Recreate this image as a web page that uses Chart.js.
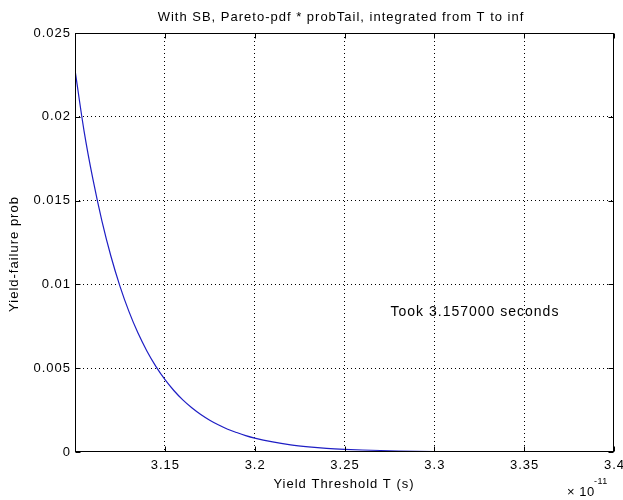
<!DOCTYPE html>
<html>
<head>
<meta charset="utf-8">
<script src="https://cdn.jsdelivr.net/npm/chart.js@4/dist/chart.umd.min.js"></script>
<style>
html,body{margin:0;padding:0;background:#fff;}
#wrap{width:623px;height:500px;}
</style>
</head>
<body>
<div id="wrap"><canvas id="c" width="623" height="500"></canvas></div>
<script>
// Data (x in units of 1e-11 s)
const thresholdT = [3.100,3.105,3.110,3.115,3.120,3.125,3.130,3.135,3.140,3.145,3.150,3.155,3.160,3.165,3.170,3.175,3.180,3.185,3.190,3.195,3.200,3.210,3.220,3.230,3.240,3.250,3.260,3.280,3.300,3.350,3.400];
const failureProb = [0.0228,0.01918,0.01626,0.01378,0.01168,0.00990,0.00839,0.00711,0.00603,0.00511,0.00433,0.00367,0.00311,0.00264,0.00224,0.00190,0.00161,0.00136,0.00116,0.00098,0.00083,0.00060,0.00043,0.00031,0.00022,0.00016,0.00012,0.00006,0.00003,0.000006,0.000001];
const xTicks = [3.1,3.15,3.2,3.25,3.3,3.35,3.4];
const xTickLabels = ["","3.15","3.2","3.25","3.3","3.35","3.4"];
const yTicks = [0,0.005,0.01,0.015,0.02,0.025];
const yTickLabels = ["0","0.005","0.01","0.015","0.02","0.025"];
const titleText = "With SB, Pareto-pdf * probTail, integrated from T to inf";
const xLabel = "Yield Threshold T (s)";
const yLabel = "Yield-failure prob";
const annotation = {x:3.2756, y:0.00835, text:"Took 3.157000 seconds"};

const FONT = "'Liberation Sans', Arial, sans-serif";

function txt(ctx, s, x, y, align, size, spacing){
  ctx.font = size+"px "+FONT;
  ctx.letterSpacing = (spacing||0)+"px";
  const w = ctx.measureText(s).width;
  ctx.textAlign='left';
  let sx = x;
  if(align==='center') sx = x - w/2;
  else if(align==='right') sx = x - w;
  ctx.fillText(s, sx, y);
}

const matlabPlugin = {
  id:'matlab',
  beforeDraw(chart){
    const ctx = chart.ctx;
    ctx.save();
    ctx.fillStyle='#fff';
    ctx.fillRect(0,0,chart.width,chart.height);
    ctx.restore();
  },
  afterDraw(chart){
    const ctx = chart.ctx, a = chart.chartArea;
    const xs = chart.scales.x, ys = chart.scales.y;
    ctx.save();
    // box
    ctx.strokeStyle='#000'; ctx.lineWidth=1; ctx.setLineDash([]);
    const L=Math.round(a.left)+0.5, T=Math.round(a.top)+0.5, R=Math.round(a.right)-0.5, B=Math.round(a.bottom)-0.5;
    ctx.strokeRect(L, T, R-L, B-T);
    // inward ticks
    const tl = 5;
    xTicks.forEach(v=>{
      const px = Math.round(xs.getPixelForValue(v))+0.5;
      ctx.beginPath();
      ctx.moveTo(px,B); ctx.lineTo(px,B-tl);
      ctx.moveTo(px,T); ctx.lineTo(px,T+tl);
      ctx.stroke();
    });
    yTicks.forEach(v=>{
      const py = Math.round(ys.getPixelForValue(v))+0.5;
      ctx.beginPath();
      ctx.moveTo(L,py); ctx.lineTo(L+tl,py);
      ctx.moveTo(R,py); ctx.lineTo(R-tl,py);
      ctx.stroke();
    });
    // texts
    ctx.fillStyle='#000';
    ctx.textBaseline='middle';
    // tick labels
    xTicks.forEach((v,i)=>{
      txt(ctx, xTickLabels[i], xs.getPixelForValue(v)+0.5, 465, 'center', 13, 1);
    });
    yTicks.forEach((v,i)=>{
      txt(ctx, yTickLabels[i], 71, ys.getPixelForValue(v), 'right', 13, 1);
    });
    txt(ctx, titleText, 341, 17, 'center', 13, 1);
    txt(ctx, xLabel, 344, 484, 'center', 13, 1);
    ctx.save();
    ctx.translate(14, 254);
    ctx.rotate(-Math.PI/2);
    txt(ctx, yLabel, 0, 0, 'center', 13, 1);
    ctx.restore();
    // exponent
    txt(ctx, "\u00d7 10", 567, 492, 'left', 13, 0.5);
    txt(ctx, "-11", 594, 482, 'left', 9, 0.5);
    // annotation
    txt(ctx, annotation.text, xs.getPixelForValue(annotation.x), ys.getPixelForValue(annotation.y), 'left', 14, 1);
    ctx.restore();
  }
};

const transparentEdgeX = (c)=> (c.tick && (Math.abs(c.tick.value-3.1)<1e-9 || Math.abs(c.tick.value-3.4)<1e-9)) ? 'rgba(0,0,0,0)' : '#000';
const transparentEdgeY = (c)=> (c.tick && (c.tick.value===0 || Math.abs(c.tick.value-0.025)<1e-12)) ? 'rgba(0,0,0,0)' : '#000';

new Chart(document.getElementById('c'), {
  type:'line',
  data:{
    datasets:[{
      data: thresholdT.map((x,i)=>({x:x,y:failureProb[i]})),
      borderColor:'#1e1ec4',
      borderWidth:1.2,
      pointRadius:0,
      cubicInterpolationMode:'monotone',
      fill:false
    }]
  },
  options:{
    responsive:false,
    animation:false,
    devicePixelRatio:1,
    layout:{padding:{left:0,right:9,top:33,bottom:0}},
    plugins:{legend:{display:false},tooltip:{enabled:false},title:{display:false}},
    scales:{
      x:{
        type:'linear', min:3.1, max:3.4,
        afterBuildTicks(s){ s.ticks = xTicks.map(v=>({value:v})); },
        afterFit(s){ s.height = 48; },
        border:{display:false, dash:[1,3]},
        grid:{color:transparentEdgeX, lineWidth:1, drawTicks:false},
        ticks:{display:false}
      },
      y:{
        type:'linear', min:0, max:0.025,
        afterBuildTicks(s){ s.ticks = yTicks.map(v=>({value:v})); },
        afterFit(s){ s.width = 75; },
        border:{display:false, dash:[1,3]},
        grid:{color:transparentEdgeY, lineWidth:1, drawTicks:false},
        ticks:{display:false}
      }
    }
  },
  plugins:[matlabPlugin]
});
</script>
</body>
</html>
